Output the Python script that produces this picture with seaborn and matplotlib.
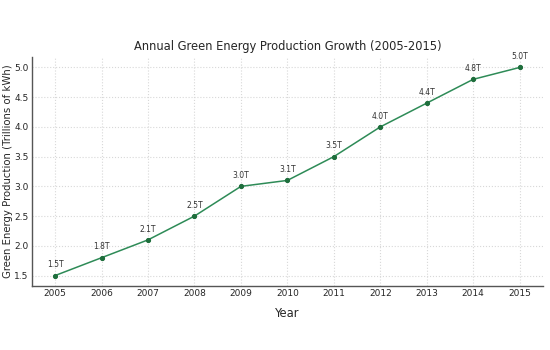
import pandas as pd
import seaborn as sns
import matplotlib.pyplot as plt

years = [2005, 2006, 2007, 2008, 2009, 2010, 2011, 2012, 2013, 2014, 2015]
production = [1.5, 1.8, 2.1, 2.5, 3.0, 3.1, 3.5, 4.0, 4.4, 4.8, 5.0]
labels = [f"{v:.1f}T" for v in production]

df = pd.DataFrame({"Year": years, "Production": production})

sns.set_style("whitegrid")
plt.rcParams['font.family'] = ['DejaVu Sans']

fig = plt.figure(figsize=(5.5, 3.5), dpi=100)
ax = fig.add_axes([0.058, 0.183, 0.929, 0.654])

sns.lineplot(data=df, x="Year", y="Production", ax=ax, color="#2e8b57",
             linewidth=1.1, marker="o", markersize=3,
             markerfacecolor="#1e6e3c", markeredgecolor="#1e6e3c")

for x, y, t in zip(years, production, labels):
    ax.annotate(t, (x, y), textcoords="offset points", xytext=(0, 6),
                ha="center", fontsize=5.5, color="#333333")

ax.set_xticks(years)
ax.tick_params(axis="both", labelsize=6.5, length=0, pad=2.5)
ax.grid(True, linestyle=":", color="#d8d8d8", linewidth=0.8)
for side in ["top", "right"]:
    ax.spines[side].set_visible(False)
for side in ["left", "bottom"]:
    ax.spines[side].set_color("#555555")
    ax.spines[side].set_linewidth(1.0)

ax.set_title("Annual Green Energy Production Growth (2005-2015)", fontsize=8.3, pad=5)
ax.set_xlabel("Year", fontsize=8.3, labelpad=6)
ax.set_ylabel("Green Energy Production (Trillions of kWh)", fontsize=7.3, labelpad=1)

fig.savefig("out.png", dpi=100)
